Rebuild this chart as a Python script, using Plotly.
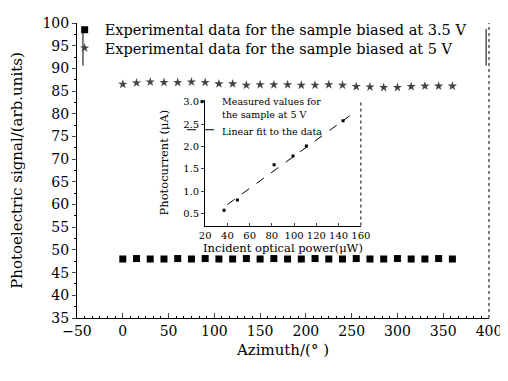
import plotly.graph_objects as go

# ---- main chart data ----
azimuth = list(range(0, 361, 15))
signal_3p5v = [48.0, 48.1, 48.0, 48.0, 48.1, 48.0, 48.1, 48.0, 48.0, 48.1, 48.0, 48.1, 48.0,
               48.0, 48.1, 48.0, 48.0, 48.1, 48.0, 48.0, 48.1, 48.0, 48.0, 48.1, 48.0]
signal_5v = [86.5, 86.8, 87.0, 86.9, 86.9, 87.0, 86.9, 86.6, 86.6, 86.3, 86.4, 86.4, 86.4,
             86.3, 86.3, 86.4, 86.3, 86.0, 85.9, 85.8, 85.8, 86.0, 86.1, 86.1, 86.1]
label_3p5v = "Experimental data for the sample biased at 3.5 V"
label_5v = "Experimental data for the sample biased at 5 V"

# ---- inset data ----
power_uw = [37, 49, 82, 99, 111, 144]
photocurrent_ua = [0.57, 0.80, 1.59, 1.79, 2.01, 2.58]
fit_power = [40, 150]
fit_current = [0.70, 2.69]
label_measured = "Measured values for<br>the sample at 5 V"
label_fit = "Linear fit to the data"

FONT = "DejaVu Serif"

fig = go.Figure()
fig.add_trace(go.Scatter(x=azimuth, y=signal_3p5v, mode="markers", name=label_3p5v,
                         marker=dict(symbol="square", size=7, color="black"),
                         xaxis="x", yaxis="y", legend="legend"))
fig.add_trace(go.Scatter(x=azimuth, y=signal_5v, mode="markers", name=label_5v,
                         marker=dict(symbol="star", size=7, color="#444444"),
                         xaxis="x", yaxis="y", legend="legend2"))
fig.add_trace(go.Scatter(x=power_uw, y=photocurrent_ua, mode="markers", name=label_measured,
                         marker=dict(symbol="square", size=3, color="black"),
                         xaxis="x2", yaxis="y2", legend="legend3"))
fig.add_trace(go.Scatter(x=fit_power, y=fit_current, mode="lines", name=label_fit,
                         line=dict(color="black", width=1, dash="dash"),
                         xaxis="x2", yaxis="y2", legend="legend4"))

leg_common = dict(xanchor="left", yanchor="middle", bgcolor="rgba(0,0,0,0)",
                  itemwidth=30, tracegroupgap=0, valign="top")

fig.update_layout(
    width=500, height=373,
    margin=dict(l=69, r=16, t=6, b=63),
    paper_bgcolor="white", plot_bgcolor="white",
    font=dict(family=FONT, color="black", size=14),
    xaxis=dict(range=[-50, 400], dtick=50, tick0=0, ticks="inside", ticklen=5,
               showline=True, linecolor="black", linewidth=1, showgrid=False, zeroline=False,
               tickfont=dict(size=14, family=FONT), ticklabeloverflow="allow",
               minor=dict(ticks="inside", ticklen=2, dtick=25 / 3, tick0=0, tickcolor="black"),
               title=dict(text="Azimuth/(° )", font=dict(size=15, family=FONT), standoff=6)),
    yaxis=dict(range=[35, 100], dtick=5, ticks="outside", ticklen=4,
               showline=True, linecolor="black", linewidth=1, showgrid=False, zeroline=False,
               tickfont=dict(size=14, family=FONT),
               minor=dict(ticks="outside", ticklen=2, dtick=2.5, tickcolor="black"),
               title=dict(text="Photoelectric signal/(arb.units)", font=dict(size=15, family=FONT),
                          standoff=18)),
    xaxis2=dict(domain=[0.311, 0.689], anchor="y2", range=[20, 160], dtick=20,
                ticks="inside", ticklen=3, showline=True, linecolor="black", linewidth=1,
                showgrid=False, zeroline=False, tickfont=dict(size=10, family=FONT),
                title=dict(text="Incident optical power(μW)", font=dict(size=11.5, family=FONT),
                           standoff=0)),
    yaxis2=dict(domain=[0.3135, 0.74], anchor="x2", range=[0.23, 3.05], dtick=0.5,
                tickformat=".1f", ticks="outside", ticklen=3, showline=True, linecolor="black",
                linewidth=1, showgrid=False, zeroline=False, tickfont=dict(size=10, family=FONT),
                title=dict(text="Photocurrent (μA)", font=dict(size=11.5, family=FONT), standoff=12)),
    legend=dict(x=-0.03, y=0.977, font=dict(size=14.5, family=FONT), **leg_common),
    legend2=dict(x=-0.03, y=0.915, font=dict(size=14.5, family=FONT), **leg_common),
    legend3=dict(x=0.255, y=0.712, font=dict(size=9.5, family=FONT), **leg_common),
    legend4=dict(x=0.255, y=0.632, font=dict(size=9.5, family=FONT), **leg_common),
    showlegend=True,
    shapes=[
        dict(type="line", xref="paper", yref="paper", x0=1, x1=1, y0=0, y1=1,
             line=dict(color="black", width=1, dash="dot")),
        dict(type="line", xref="x2 domain", yref="y2 domain", x0=1, x1=1, y0=0, y1=1,
             line=dict(color="black", width=1, dash="dot")),
        dict(type="line", xref="paper", yref="paper", x0=0.0145, x1=0.0145, y0=0.855, y1=0.98,
             line=dict(color="black", width=1)),
        dict(type="line", xref="paper", yref="paper", x0=0.993, x1=0.993, y0=0.855, y1=0.98,
             line=dict(color="black", width=1)),
    ],
)

fig.write_html("out.html")
